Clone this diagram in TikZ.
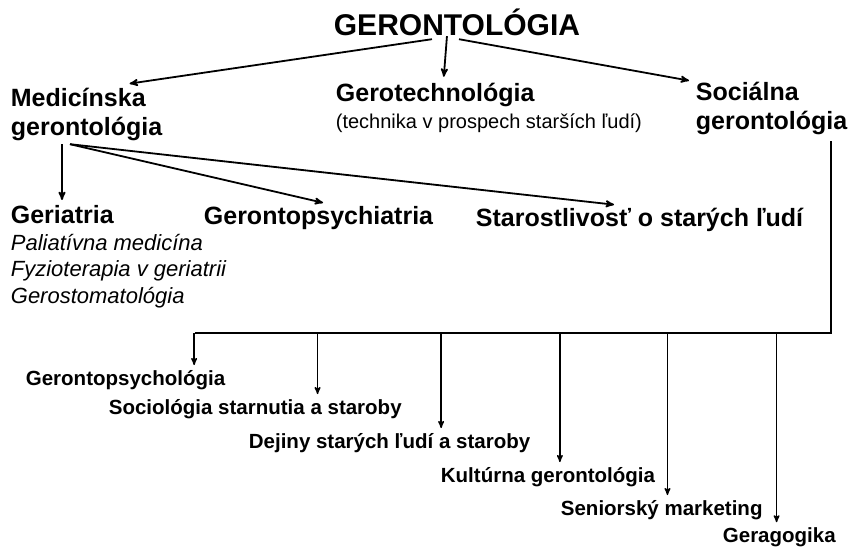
\documentclass[tikz,border=0pt]{standalone}
\usepackage{fontspec}
\setmainfont{Liberation Sans}
\usetikzlibrary{arrows}

\begin{document}
\begin{tikzpicture}[->,>=stealth',shorten >=1pt,x=1pt,y=-1pt,
                    line width=1.8pt]
  \tikzstyle{every node}=[inner sep=0pt,anchor=base west]
  \tikzstyle{topic}=[font=\fontsize{30}{36}\selectfont\bfseries]
  \tikzstyle{branch}=[font=\fontsize{25}{29}\selectfont\bfseries,align=left]
  \tikzstyle{remark}=[font=\fontsize{20}{24}\selectfont]
  \tikzstyle{sublist}=[font=\fontsize{22}{26.5}\selectfont\itshape,align=left]
  \tikzstyle{leaf}=[font=\fontsize{20.5}{24}\selectfont\bfseries]
  \tikzstyle{drop}=[line width=1.4pt]

  \useasboundingbox (0,0) rectangle (855,550);

  % multi-line nodes sit on their last line
  \node[topic]  (ger)  at (333,35)  {GERONTOLÓGIA};
  \node[branch] (med)  at (10,135)  {Medicínska\\gerontológia};
  \node[branch] (tech) at (335,101) {Gerotechnológia};
  \node[remark] (tnote) at (335,128) {(technika v prospech starších ľudí)};
  \node[branch] (soc)  at (695,129) {Sociálna\\gerontológia};

  \node[branch] (geri) at (10,223)  {Geriatria};
  \node[sublist] (gsub) at (10,303) {Paliatívna medicína\\Fyzioterapia v geriatrii\\Gerostomatológia};
  \node[branch] (gps)  at (203,224) {Gerontopsychiatria};
  \node[branch] (care) at (475,226) {Starostlivosť o starých ľudí};

  \node[leaf] (leaf1) at (25,385)  {Gerontopsychológia};
  \node[leaf] (leaf2) at (108,414) {Sociológia starnutia a staroby};
  \node[leaf] (leaf3) at (248,448) {Dejiny starých ľudí a staroby};
  \node[leaf] (leaf4) at (440,482) {Kultúrna gerontológia};
  \node[leaf] (leaf5) at (560,515) {Seniorský marketing};
  \node[leaf] (leaf6) at (722,542) {Geragogika};

  % from the top
  \draw ([xshift=-25pt,yshift=-3pt]ger.south) -- ([xshift=42pt,yshift=3pt]med.north);
  \draw ([xshift=-10pt]ger.south) -- ([xshift=8.5pt,yshift=4pt]tech.north);
  \draw ([xshift=2pt,yshift=-3pt]ger.south) -- ([xshift=-5pt]soc.north west);

  % medical branch
  \coordinate (medout) at ([xshift=52pt,yshift=-3pt]med.south west);
  \draw (medout) -- ([xshift=52pt,yshift=3pt]geri.north west);
  \draw ([xshift=8pt]medout) -- ([xshift=5.5pt,yshift=2pt]gps.north);
  \draw ([xshift=8pt]medout) -- ([xshift=-24.5pt,yshift=2pt]care.north);

  % social branch
  \coordinate (socout) at ([xshift=-17pt,yshift=-6pt]soc.south east);
  \coordinate (bus) at (socout |- 0,333);
  \foreach \n/\dx in {1/-32,2/-85,3/-90,4/-96,5/-96,6/-60}
    \coordinate (t\n) at ([xshift=\dx pt,yshift=3pt]leaf\n.north east);
  \draw[-] (socout) -- (bus) -- (bus -| t1);
  \foreach \n in {1,...,6}
    \draw[drop] (bus -| t\n) -- (t\n);
\end{tikzpicture}
\end{document}
